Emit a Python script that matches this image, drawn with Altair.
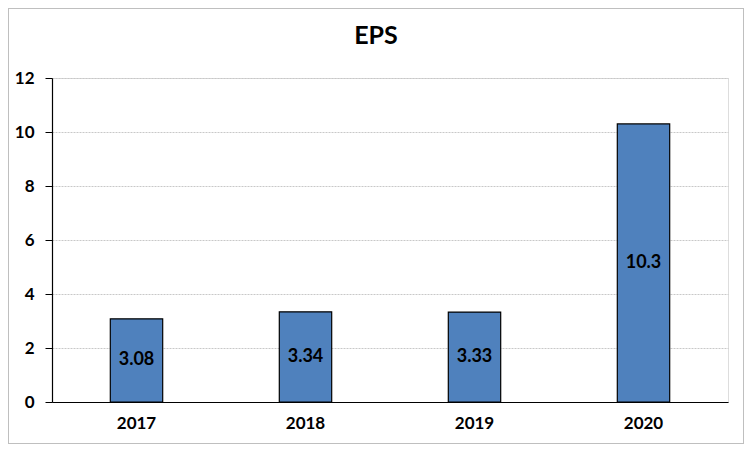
import altair as alt
import pandas as pd

years = ["2017", "2018", "2019", "2020"]
eps = [3.08, 3.34, 3.33, 10.3]
labels = ["3.08", "3.34", "3.33", "10.3"]
title_text = ["EPS"]

df = pd.DataFrame({"year": years, "eps": eps, "label": labels})
df["mid"] = df["eps"] / 2
tdf = pd.DataFrame({"t": title_text})

FONT = "Lato"

x = alt.X("year:N", title=None, sort=years,
          scale=alt.Scale(paddingInner=0.69, paddingOuter=0.345),
          axis=alt.Axis(labelAngle=0, labelFont=FONT, labelFontWeight="bold",
                        labelFontSize=17, labelColor="black", ticks=False,
                        labelPadding=13, domainColor="black", domainWidth=1.2,
                        grid=False))
y = alt.Y("eps:Q", title=None,
          scale=alt.Scale(domain=[0, 12]),
          axis=alt.Axis(values=[0, 2, 4, 6, 8, 10, 12], labelFont=FONT,
                        labelFontWeight="bold", labelFontSize=17,
                        labelColor="black", tickColor="black", tickSize=7,
                        domainColor="black", domainWidth=1.2, labelPadding=11,
                        grid=True, gridColor="#C8C8C8", gridDash=[2, 1],
                        gridWidth=1))

bars = alt.Chart(df).mark_bar(color="#4F81BD", stroke="black",
                              strokeWidth=1.2).encode(x=x, y=y)

text = alt.Chart(df).mark_text(font=FONT, fontWeight="bold", fontSize=18,
                               color="black").encode(
    x=alt.X("year:N", sort=years),
    y=alt.Y("mid:Q"),
    text="label:N")

title = alt.Chart(tdf).mark_text(font=FONT, fontWeight="bold", fontSize=25,
                                 color="black", baseline="middle").encode(
    x=alt.value(324), y=alt.value(-42), text="t:N")

border = alt.Chart(df).mark_rect(fill=None, stroke="#BFBFBF",
                                 strokeWidth=1).encode(
    x=alt.value(-43.5), x2=alt.value(691.5),
    y=alt.value(-69.5), y2=alt.value(365.5))

chart = alt.layer(bars, text, title, border).properties(
    width=676, height=324,
    autosize=alt.AutoSizeParams(type="none"),
    padding={"left": 44, "top": 70, "right": 16, "bottom": 42},
).configure_view(stroke=None).configure(background="white")

chart.save("out.html", embed_options={"renderer": "svg", "actions": False})
